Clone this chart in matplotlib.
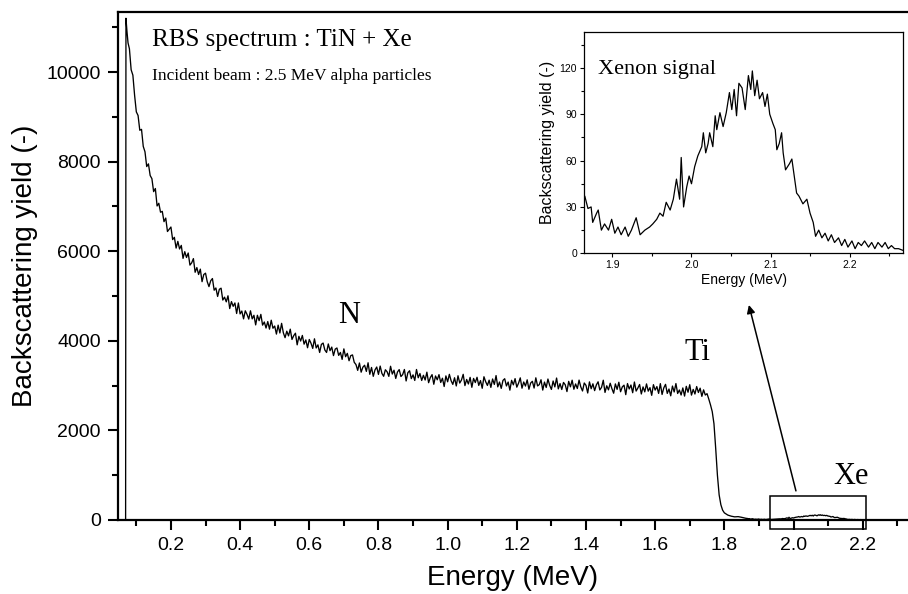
import numpy as np
import matplotlib
matplotlib.use('Agg')
import matplotlib.pyplot as plt
from matplotlib.ticker import MultipleLocator, FormatStrFormatter
from matplotlib.patches import Rectangle

SANS = 'Liberation Sans'
SERIF = 'Liberation Serif'

# --- spectrum data ---
# leading channel: vertical rise at the low-energy cut-off
lead_energy = [0.069, 0.070, 0.073, 0.076]
lead_counts = [0, 11200, 10900, 10650]

# regular channels, 0.080 .. 1.745 MeV, 0.005 MeV apart
main_start = 0.08
main_step = 0.005
main_counts = [
    10520, 10050, 9930, 9480, 9110, 9030, 8700, 8720, 8340, 8220,
    7890, 7950, 7690, 7620, 7330, 7400, 7010, 7070, 6870, 6890,
    6660, 6740, 6440, 6490, 6540, 6260, 6310, 6070, 6220, 6050,
    6130, 5840, 5990, 5860, 5960, 5690, 5740, 5835, 5530, 5635,
    5480, 5600, 5320, 5480, 5510, 5320, 5210, 5340, 5390, 5130,
    5180, 4990, 5150, 5175, 4910, 4975, 4870, 5005, 4720, 4875,
    4770, 4845, 4610, 4845, 4600, 4665, 4490, 4670, 4590, 4485,
    4670, 4490, 4570, 4355, 4570, 4450, 4590, 4350, 4420, 4285,
    4430, 4260, 4460, 4280, 4330, 4150, 4350, 4175, 4390, 4180,
    4070, 4215, 4110, 4260, 4030, 4115, 4170, 3910, 4100, 3995,
    4120, 3925, 4020, 3845, 4030, 3945, 3830, 4045, 3840, 3910,
    3740, 3920, 3950, 3795, 3740, 3930, 3780, 3860, 3670, 3815,
    3840, 3675, 3740, 3585, 3820, 3645, 3720, 3555, 3670, 3685,
    3520, 3470, 3340, 3505, 3300, 3412, 3455, 3317, 3510, 3252,
    3405, 3207, 3350, 3415, 3250, 3436, 3272, 3208, 3354, 3310,
    3206, 3432, 3258, 3344, 3160, 3304, 3358, 3202, 3246, 3360,
    3104, 3288, 3332, 3156, 3240, 3115, 3360, 3175, 3270, 3115,
    3230, 3125, 3300, 3065, 3180, 3245, 3030, 3215, 3130, 3245,
    3070, 3165, 2980, 3217, 3085, 3252, 3110, 3027, 3175, 2992,
    3220, 3057, 3125, 3252, 3000, 3138, 3036, 3184, 2962, 3160,
    3068, 3186, 3004, 3112, 2940, 3198, 3086, 3004, 3122, 2960,
    3148, 3026, 3224, 2972, 3080, 2938, 3116, 3154, 2992, 3080,
    2899, 3118, 3017, 3156, 2965, 3054, 3173, 2942, 3081, 2990,
    3129, 2918, 3057, 3096, 2945, 3174, 2993, 3022, 3131, 2900,
    3079, 2958, 3147, 3006, 2915, 3103, 2971, 3169, 2927, 3045,
    2913, 3071, 3019, 2867, 3095, 2973, 3121, 2919, 3037, 2935,
    3123, 2971, 2880, 3058, 3006, 2835, 3083, 2931, 3040, 2888,
    3016, 3085, 2903, 2961, 3120, 2848, 2996, 2905, 3053, 2931,
    2830, 3038, 2916, 3075, 2863, 2971, 3010, 2798, 3046, 2925,
    3013, 2841, 3080, 2878, 2946, 3025, 2813, 2971, 2860, 3038,
    2876, 2955, 2783, 3021, 2900, 2978, 2826, 3044, 2802, 2950,
    3028, 2826, 2924, 2772, 2990, 2858, 3046, 2824, 2902, 2790,
    2948, 2766, 2984, 2852, 3020, 2788, 2915, 2812, 2979, 2846,
    2943, 2760, 2905, 2790,
]

# Ti surface edge
edge_energy = [1.750, 1.755, 1.760, 1.765, 1.770, 1.775, 1.780, 1.785, 1.790,
               1.795, 1.800, 1.810, 1.820, 1.830, 1.840, 1.850, 1.858]
edge_counts = [2820, 2700, 2570, 2420, 2150, 1600, 1000, 560, 340,
               220, 160, 110, 85, 70, 75, 60, 45]

# Xe signal (also shown in the inset)
xe_energy = [
    1.864, 1.865, 1.869, 1.873, 1.875, 1.880, 1.882, 1.886, 1.890, 1.895,
    1.899, 1.903, 1.907, 1.911, 1.916, 1.920, 1.924, 1.930, 1.935, 1.941,
    1.947, 1.951, 1.956, 1.960, 1.964, 1.968, 1.973, 1.977, 1.981, 1.985,
    1.987, 1.990, 1.994, 1.997, 2.000, 2.004, 2.008, 2.013, 2.015, 2.018,
    2.021, 2.023, 2.027, 2.030, 2.032, 2.036, 2.040, 2.044, 2.048, 2.051,
    2.054, 2.057, 2.060, 2.064, 2.068, 2.072, 2.075, 2.077, 2.080, 2.083,
    2.086, 2.090, 2.093, 2.096, 2.099, 2.103, 2.106, 2.108, 2.111, 2.114,
    2.116, 2.119, 2.124, 2.127, 2.130, 2.133, 2.136, 2.141, 2.146, 2.150,
    2.154, 2.157, 2.161, 2.165, 2.169, 2.173, 2.177, 2.181, 2.186, 2.190,
    2.194, 2.198, 2.203, 2.207, 2.211, 2.215, 2.219, 2.224, 2.228, 2.232,
    2.236, 2.241, 2.245, 2.249, 2.253, 2.257, 2.262, 2.267,
]
xe_counts = [
    35, 37, 29, 30, 20, 26, 28, 15, 19, 15,
    22, 13, 17, 12, 17, 11, 15, 23, 12, 15,
    17, 19, 22, 26, 24, 33, 28, 35, 48, 35,
    62, 30, 43, 50, 45, 56, 63, 69, 78, 65,
    71, 78, 69, 89, 80, 91, 82, 91, 104, 93,
    106, 89, 110, 107, 93, 115, 106, 118, 102, 112,
    100, 104, 95, 103, 90, 84, 80, 67, 71, 78,
    65, 54, 58, 61, 50, 39, 37, 32, 35, 26,
    20, 11, 15, 10, 13, 8, 12, 7, 10, 5,
    9, 4, 8, 3, 7, 5, 8, 4, 7, 3,
    7, 4, 7, 3, 5, 3, 3, 2,
]

# zoom box and arrow in the main panel (MeV, counts)
box_energy = (1.931, 2.209)
box_counts = (-200, 540)
arrow_tail = (2.007, 650)
arrow_head = (1.871, 4800)

main_energy = main_start + main_step * np.arange(len(main_counts))
energy = np.concatenate([lead_energy, main_energy, edge_energy, xe_energy])
counts = np.concatenate([lead_counts, main_counts, edge_counts, xe_counts])

fig = plt.figure(figsize=(9.08, 5.94), dpi=100)
ax = fig.add_axes([118 / 908, 74 / 594, 790 / 908, 508 / 594])

ax.plot(energy, counts, color='black', lw=0.95)
ax.set_xlim(0.047, 2.331)
ax.set_ylim(0, 11340)

ax.xaxis.set_major_locator(MultipleLocator(0.2))
ax.xaxis.set_minor_locator(MultipleLocator(0.1))
ax.xaxis.set_major_formatter(FormatStrFormatter('%.1f'))
ax.yaxis.set_major_locator(MultipleLocator(2000))
ax.yaxis.set_minor_locator(MultipleLocator(1000))
ax.tick_params(which='major', direction='out', length=7.5, width=1.5,
               labelsize=14, pad=5)
ax.tick_params(which='minor', direction='out', length=4, width=1.5)
for lab in ax.get_xticklabels() + ax.get_yticklabels():
    lab.set_family(SANS)
for side in ('left', 'bottom', 'top'):
    ax.spines[side].set_linewidth(1.6)
ax.spines['right'].set_visible(False)

ax.set_xlabel('Energy (MeV)', family=SANS, fontsize=20, labelpad=8)
ax.set_ylabel('Backscattering yield (-)', family=SANS, fontsize=20, labelpad=6)

ax.text(0.145, 10714, 'RBS spectrum : TiN + Xe', family=SERIF, fontsize=18,
        va='center', ha='left')
ax.text(0.145, 9911, 'Incident beam : 2.5 MeV alpha particles', family=SERIF,
        fontsize=12.5, va='center', ha='left')
ax.text(0.715, 4576, 'N', family=SERIF, fontsize=22, ha='center', va='center')
ax.text(1.723, 3728, 'Ti', family=SERIF, fontsize=22, ha='center', va='center')
ax.text(2.166, 982, 'Xe', family=SERIF, fontsize=22, ha='center', va='center')

ax.add_patch(Rectangle((box_energy[0], box_counts[0]),
                       box_energy[1] - box_energy[0],
                       box_counts[1] - box_counts[0],
                       fill=False, lw=1.1, ec='black', clip_on=False))
ax.annotate('', xy=arrow_head, xytext=arrow_tail,
            arrowprops=dict(arrowstyle='-|>', lw=1.1, color='black',
                            mutation_scale=12, shrinkA=0, shrinkB=0))

# --- inset ---
ins = fig.add_axes([584 / 908, 340.7 / 594, 319.3 / 908, 221 / 594])
ins.plot(xe_energy, xe_counts, color='black', lw=0.9)
ins.set_xlim(1.864, 2.268)
ins.set_ylim(0, 143)
ins.xaxis.set_major_locator(MultipleLocator(0.1))
ins.xaxis.set_minor_locator(MultipleLocator(0.05))
ins.xaxis.set_major_formatter(FormatStrFormatter('%.1f'))
ins.yaxis.set_major_locator(MultipleLocator(30))
ins.yaxis.set_minor_locator(MultipleLocator(15))
ins.tick_params(which='major', direction='out', length=3, width=0.8,
                labelsize=7.5, pad=2)
ins.tick_params(which='minor', direction='out', length=2, width=0.8)
for lab in ins.get_xticklabels() + ins.get_yticklabels():
    lab.set_family(SANS)
for sp in ins.spines.values():
    sp.set_linewidth(0.9)
ins.set_xlabel('Energy (MeV)', family=SANS, fontsize=10, labelpad=2)
ins.set_ylabel('Backscattering yield (-)', family=SANS, fontsize=11.5, labelpad=3)
ins.text(0.045, 0.83, 'Xenon signal', family=SERIF, fontsize=16,
         transform=ins.transAxes, ha='left', va='center')

fig.savefig('out.png', dpi=100)
